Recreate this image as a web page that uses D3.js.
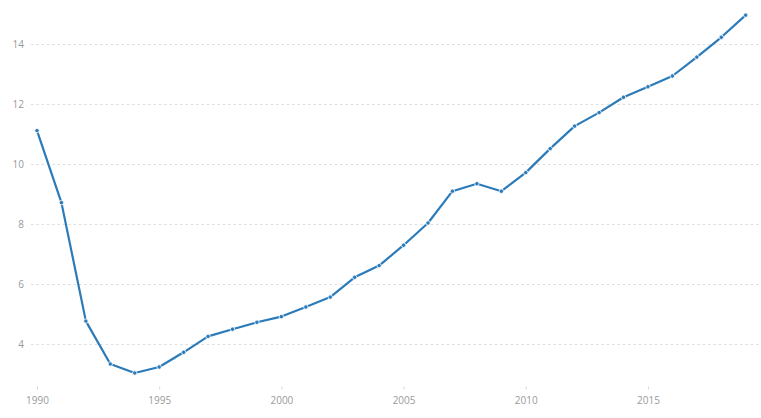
<!DOCTYPE html>
<html>
<head>
<meta charset="utf-8">
<script src="https://cdn.jsdelivr.net/npm/d3@7"></script>
<style>
  html, body { margin: 0; padding: 0; background: #fff; }
  svg { display: block; }
  text { font-family: "Open Sans", sans-serif; }
</style>
</head>
<body>
<svg id="chart" width="761" height="418"></svg>
<script>
const years = [1990,1991,1992,1993,1994,1995,1996,1997,1998,1999,
               2000,2001,2002,2003,2004,2005,2006,2007,2008,2009,
               2010,2011,2012,2013,2014,2015,2016,2017,2018,2019];
const values = [11.13,8.73,4.78,3.35,3.05,3.25,3.74,4.27,4.51,4.74,
                4.93,5.25,5.58,6.24,6.63,7.31,8.05,9.11,9.36,9.11,
                9.73,10.53,11.28,11.73,12.24,12.59,12.95,13.58,14.24,14.98];
const yTicks = [4,6,8,10,12,14];
const xTicks = [1990,1995,2000,2005,2010,2015];

const data = years.map((y,i) => ({year: y, value: values[i]}));

const svg = d3.select("#chart");
const x = d3.scaleLinear().domain([1990, 2019]).range([37, 745.7]);
const y = d3.scaleLinear().domain([4, 14]).range([344.5, 44.5]);

// grid
const grid = svg.append("g");
grid.selectAll("line").data(yTicks).enter().append("line")
  .attr("x1", 31).attr("x2", 761)
  .attr("y1", d => y(d)).attr("y2", d => y(d))
  .attr("stroke", "#dedede").attr("stroke-width", 1)
  .attr("stroke-dasharray", "2.5,2.83");

// y labels
const yAxis = d3.axisLeft(y).tickValues(yTicks).tickSize(0).tickPadding(0);
const gy = svg.append("g").attr("transform", "translate(24,0)").call(yAxis);
gy.select(".domain").remove();
gy.selectAll("text").attr("fill", "#9a9a9a").style("font-size", "10px")
  .style("font-family", "'Open Sans', sans-serif");

// x axis
const xAxis = d3.axisBottom(x).tickValues(xTicks).tickFormat(d3.format("d")).tickSize(3).tickPadding(7);
const gx = svg.append("g").attr("transform", "translate(0,386.5)").call(xAxis);
gx.select(".domain").remove();
gx.selectAll("line").attr("stroke", "#d8d8d8");
gx.selectAll("text").attr("fill", "#9a9a9a").style("font-size", "10px")
  .style("font-family", "'Open Sans', sans-serif");

// line
const line = d3.line().x(d => x(d.year)).y(d => y(d.value));
svg.append("path").datum(data)
  .attr("fill", "none").attr("stroke", "#2b7bba").attr("stroke-width", 2.2)
  .attr("stroke-linejoin", "round")
  .attr("d", line);

svg.append("g").selectAll("circle").data(data).enter().append("circle")
  .attr("cx", d => x(d.year)).attr("cy", d => y(d.value))
  .attr("r", 2.2)
  .attr("fill", "#2b7bba").attr("stroke", "#fff").attr("stroke-width", 0.8);
</script>
</body>
</html>
